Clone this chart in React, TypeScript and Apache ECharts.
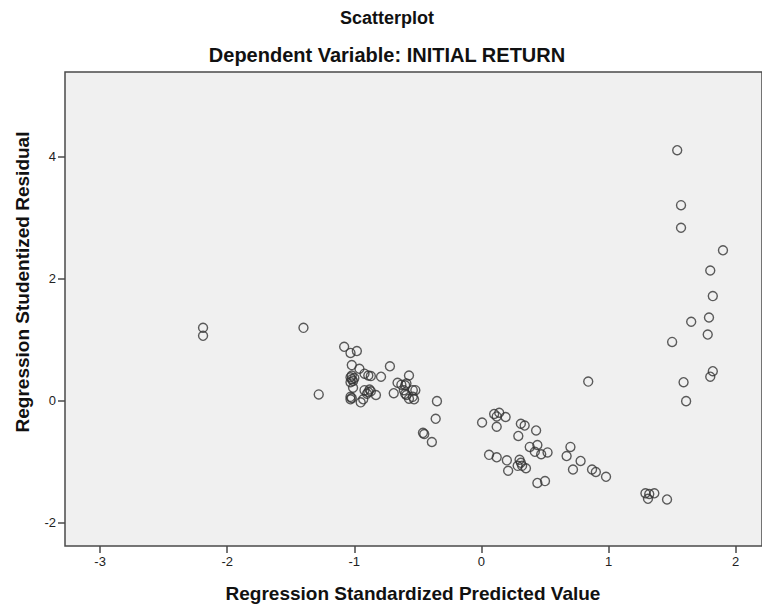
import React, { useEffect, useRef } from "react";
import * as echarts from "echarts";

const predicted: number[] = [
  -2.19, -2.19, -1.40, -1.28,
  -1.08, -1.03, -0.98, -1.02, -0.96,
  -0.92, -0.89, -0.87, -0.79, -0.72,
  -1.03, -1.02, -1.01, -1.03, -1.00, -1.02,
  -1.01, -1.03, -1.03, -1.02,
  -0.95, -0.93,
  -0.92, -0.89, -0.88, -0.87, -0.90,
  -0.83,
  -0.57, -0.66, -0.63, -0.60, -0.59,
  -0.69,
  -0.61, -0.60, -0.59, -0.54, -0.53, -0.57, -0.54, -0.52,
  -0.35, -0.36, -0.46, -0.45, -0.39,
  0.005, 0.10, 0.14, 0.12, 0.19, 0.12,
  0.31, 0.34, 0.29, 0.43,
  0.38, 0.44, 0.42, 0.47, 0.52,
  0.06, 0.12, 0.20, 0.21,
  0.30, 0.31, 0.285, 0.32, 0.35,
  0.44, 0.50,
  0.70, 0.67, 0.78, 0.72, 0.87, 0.90, 0.98,
  0.84,
  1.29, 1.32, 1.36, 1.31, 1.46,
  1.54, 1.57, 1.57, 1.90, 1.80, 1.82, 1.65, 1.79, 1.78, 1.50, 1.82, 1.80, 1.59, 1.61,
];

const residual: number[] = [
  1.19, 1.06, 1.19, 0.10,
  0.88, 0.78, 0.81, 0.58, 0.52,
  0.44, 0.41, 0.40, 0.39, 0.56,
  0.38, 0.35, 0.32, 0.30, 0.37, 0.41,
  0.21, 0.06, 0.02, 0.04,
  -0.03, 0.02,
  0.17, 0.14, 0.18, 0.15, 0.11,
  0.09,
  0.41, 0.29, 0.26, 0.25, 0.28,
  0.12,
  0.17, 0.11, 0.09, 0.17, 0.02, 0.03, 0.06, 0.17,
  -0.01, -0.30, -0.53, -0.55, -0.68,
  -0.36, -0.22, -0.20, -0.26, -0.27, -0.43,
  -0.38, -0.41, -0.58, -0.49,
  -0.76, -0.73, -0.84, -0.88, -0.85,
  -0.89, -0.93, -0.98, -1.15,
  -0.97, -1.02, -1.07, -1.07, -1.11,
  -1.35, -1.32,
  -0.76, -0.91, -0.99, -1.13, -1.13, -1.17, -1.25,
  0.31,
  -1.52, -1.53, -1.52, -1.61, -1.62,
  4.10, 3.20, 2.83, 2.46, 2.13, 1.71, 1.29, 1.36, 1.08, 0.96, 0.48, 0.39, 0.30, -0.01,
];

const xTicks: number[] = [-3, -2, -1, 0, 1, 2];
const yTicks: number[] = [-2, 0, 2, 4];

const titleText = "Scatterplot";
const subtitleText = "Dependent Variable: INITIAL RETURN";
const xAxisName = "Regression Standardized Predicted Value";
const yAxisName = "Regression Studentized Residual";

export default function App() {
  const ref = useRef<HTMLDivElement>(null);

  useEffect(() => {
    if (!ref.current) return;
    const chart = echarts.init(ref.current, null, { renderer: "svg" });
    const points = predicted.map((x, i) => [x, residual[i]]);
    const font = "'Liberation Sans', Arial, sans-serif";
    const tickStyle = { color: "#4a4a4a", width: 1.5 };
    chart.setOption({
      animation: false,
      backgroundColor: "#ffffff",
      grid: {
        left: 65,
        top: 72,
        right: -1,
        bottom: 605 - 546,
        show: true,
        backgroundColor: "#f0f0f0",
        borderColor: "#4a4a4a",
        borderWidth: 1.5,
      },
      xAxis: {
        type: "value",
        min: -3.276,
        max: 2.207,
        axisLine: { show: false, onZero: false },
        splitLine: { show: false },
        axisTick: {
          show: true,
          length: 7,
          customValues: xTicks,
          lineStyle: tickStyle,
        },
        axisLabel: {
          customValues: xTicks,
          color: "#222",
          fontFamily: font,
          fontSize: 13,
          margin: 9,
        },
      },
      yAxis: {
        type: "value",
        min: -2.383,
        max: 5.381,
        axisLine: { show: false, onZero: false },
        splitLine: { show: false },
        axisTick: {
          show: true,
          length: 7,
          customValues: yTicks,
          lineStyle: tickStyle,
        },
        axisLabel: {
          customValues: yTicks,
          color: "#222",
          fontFamily: font,
          fontSize: 13,
          margin: 9,
        },
      },
      graphic: [
        {
          type: "text",
          x: 387,
          y: 18,
          style: {
            text: titleText,
            fontFamily: font,
            fontWeight: "bold",
            fontSize: 18,
            fill: "#111",
            textAlign: "center",
            textVerticalAlign: "middle",
          },
        },
        {
          type: "text",
          x: 387,
          y: 55,
          style: {
            text: subtitleText,
            fontFamily: font,
            fontWeight: "bold",
            fontSize: 20,
            fill: "#111",
            textAlign: "center",
            textVerticalAlign: "middle",
          },
        },
        {
          type: "text",
          x: 413,
          y: 593,
          style: {
            text: xAxisName,
            fontFamily: font,
            fontWeight: "bold",
            fontSize: 19,
            fill: "#111",
            textAlign: "center",
            textVerticalAlign: "middle",
          },
        },
        {
          type: "text",
          x: 22,
          y: 282,
          rotation: Math.PI / 2,
          style: {
            text: yAxisName,
            fontFamily: font,
            fontWeight: "bold",
            fontSize: 19,
            fill: "#111",
            textAlign: "center",
            textVerticalAlign: "middle",
          },
        },
      ],
      series: [
        {
          type: "scatter",
          data: points,
          symbol: "circle",
          symbolSize: 9,
          itemStyle: {
            color: "rgba(0,0,0,0)",
            borderColor: "#333",
            borderWidth: 1.4,
          },
          emphasis: { disabled: true },
        },
      ],
    });
    return () => chart.dispose();
  }, []);

  return (
    <div
      ref={ref}
      style={{ position: "fixed", left: 0, top: 0, width: 762, height: 605, background: "#fff" }}
    />
  );
}
